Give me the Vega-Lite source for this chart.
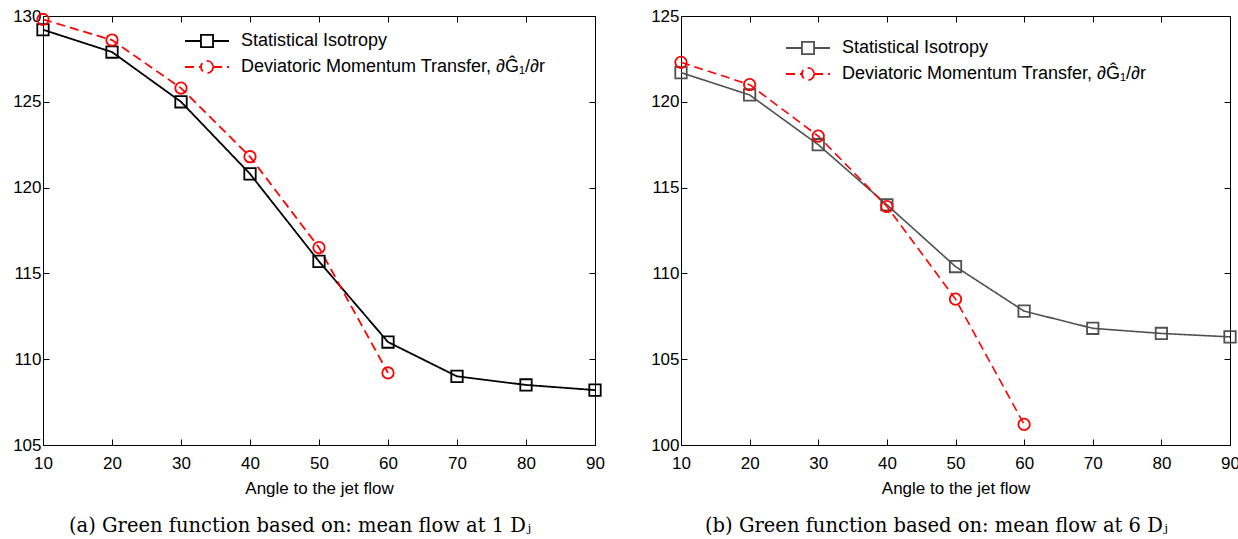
{
  "$schema": "https://vega.github.io/schema/vega-lite/v6.json",
  "background": "white",
  "padding": {"left": 12, "top": 6, "right": 4, "bottom": 0},
  "spacing": 45,
  "resolve": {"scale": {"color": "independent", "shape": "independent", "strokeDash": "independent"}},
  "config": {
    "view": {"stroke": "black", "strokeWidth": 1},
    "font": "Liberation Sans",
    "axis": {
      "grid": false, "domain": false, "tickColor": "black", "tickSize": -6, "tickWidth": 1, "labelFlush": false, "labelOverlap": false,
      "labelFont": "Liberation Sans", "labelFontSize": 17, "labelColor": "black",
      "titleFont": "Liberation Sans", "titleFontSize": 17, "titleFontWeight": "normal", "titleColor": "black"
    },
    "legend": {"labelFont": "Liberation Sans", "labelFontSize": 18, "labelColor": "black", "padding": 0, "labelLimit": 0}
  },
  "datasets": {
    "a": [
      {"angle": 10, "value": 129.2, "series": "Statistical Isotropy"},
      {"angle": 20, "value": 127.9, "series": "Statistical Isotropy"},
      {"angle": 30, "value": 125.0, "series": "Statistical Isotropy"},
      {"angle": 40, "value": 120.8, "series": "Statistical Isotropy"},
      {"angle": 50, "value": 115.7, "series": "Statistical Isotropy"},
      {"angle": 60, "value": 111.0, "series": "Statistical Isotropy"},
      {"angle": 70, "value": 109.0, "series": "Statistical Isotropy"},
      {"angle": 80, "value": 108.5, "series": "Statistical Isotropy"},
      {"angle": 90, "value": 108.2, "series": "Statistical Isotropy"},
      {"angle": 10, "value": 129.8, "series": "Deviatoric Momentum Transfer, ∂Ĝ₁/∂r"},
      {"angle": 20, "value": 128.6, "series": "Deviatoric Momentum Transfer, ∂Ĝ₁/∂r"},
      {"angle": 30, "value": 125.8, "series": "Deviatoric Momentum Transfer, ∂Ĝ₁/∂r"},
      {"angle": 40, "value": 121.8, "series": "Deviatoric Momentum Transfer, ∂Ĝ₁/∂r"},
      {"angle": 50, "value": 116.5, "series": "Deviatoric Momentum Transfer, ∂Ĝ₁/∂r"},
      {"angle": 60, "value": 109.2, "series": "Deviatoric Momentum Transfer, ∂Ĝ₁/∂r"}
    ],
    "b": [
      {"angle": 10, "value": 121.7, "series": "Statistical Isotropy"},
      {"angle": 20, "value": 120.4, "series": "Statistical Isotropy"},
      {"angle": 30, "value": 117.5, "series": "Statistical Isotropy"},
      {"angle": 40, "value": 114.0, "series": "Statistical Isotropy"},
      {"angle": 50, "value": 110.4, "series": "Statistical Isotropy"},
      {"angle": 60, "value": 107.8, "series": "Statistical Isotropy"},
      {"angle": 70, "value": 106.8, "series": "Statistical Isotropy"},
      {"angle": 80, "value": 106.5, "series": "Statistical Isotropy"},
      {"angle": 90, "value": 106.3, "series": "Statistical Isotropy"},
      {"angle": 10, "value": 122.3, "series": "Deviatoric Momentum Transfer, ∂Ĝ₁/∂r"},
      {"angle": 20, "value": 121.0, "series": "Deviatoric Momentum Transfer, ∂Ĝ₁/∂r"},
      {"angle": 30, "value": 118.0, "series": "Deviatoric Momentum Transfer, ∂Ĝ₁/∂r"},
      {"angle": 40, "value": 113.9, "series": "Deviatoric Momentum Transfer, ∂Ĝ₁/∂r"},
      {"angle": 50, "value": 108.5, "series": "Deviatoric Momentum Transfer, ∂Ĝ₁/∂r"},
      {"angle": 60, "value": 101.2, "series": "Deviatoric Momentum Transfer, ∂Ĝ₁/∂r"}
    ]
  },
  "hconcat": [
    {
      "width": 552, "height": 429,
      "data": {"name": "a"},
      "title": {"text": "(a) Green function based on: mean flow at 1 Dⱼ", "orient": "bottom", "anchor": "start", "frame": "group", "dx": 26, "font": "DejaVu Serif", "fontSize": 19.5, "fontWeight": "normal", "color": "black", "offset": 21},
      "resolve": {"axis": {"x": "independent", "y": "independent"}, "scale": {"color": "independent", "shape": "independent", "strokeDash": "independent"}},
      "layer": [
        {
          "mark": {"type": "line", "strokeWidth": 1.8},
          "encoding": {
            "x": {"field": "angle", "type": "quantitative", "scale": {"domain": [10, 90], "nice": false}, "axis": {"values": [10,20,30,40,50,60,70,80,90], "title": "Angle to the jet flow", "labelPadding": 16, "titlePadding": 9}},
            "y": {"field": "value", "type": "quantitative", "scale": {"domain": [105, 130], "nice": false, "zero": false}, "axis": {"values": [105,110,115,120,125,130], "title": null, "labelPadding": 8}},
            "color": {"field": "series", "type": "nominal", "scale": {"domain": ["Statistical Isotropy", "Deviatoric Momentum Transfer, ∂Ĝ₁/∂r"], "range": ["#000000", "#ff0000"]}, "legend": null},
            "strokeDash": {"field": "series", "type": "nominal", "scale": {"domain": ["Statistical Isotropy", "Deviatoric Momentum Transfer, ∂Ĝ₁/∂r"], "range": [[1, 0], [9, 5]]}, "legend": null}
          }
        },
        {
          "mark": {"type": "point", "filled": false, "strokeWidth": 1.8, "size": 130, "opacity": 1},
          "encoding": {
            "x": {"field": "angle", "type": "quantitative", "axis": null},
            "y": {"field": "value", "type": "quantitative", "axis": null},
            "color": {"field": "series", "type": "nominal", "scale": {"domain": ["Statistical Isotropy", "Deviatoric Momentum Transfer, ∂Ĝ₁/∂r"], "range": ["#000000", "#ff0000"]}, "legend": null},
            "shape": {"field": "series", "type": "nominal", "scale": {"domain": ["Statistical Isotropy", "Deviatoric Momentum Transfer, ∂Ĝ₁/∂r"], "range": ["square", "circle"]}, "legend": null}
          }
        },
        {
          "mark": {"type": "point", "filled": false, "opacity": 0, "strokeWidth": 1.8},
          "encoding": {
            "x": {"field": "angle", "type": "quantitative", "axis": {"orient": "top", "labels": false, "title": null, "values": [10,20,30,40,50,60,70,80,90]}},
            "y": {"field": "value", "type": "quantitative", "axis": {"orient": "right", "labels": false, "title": null, "values": [105,110,115,120,125,130]}},
            "color": {"field": "series", "type": "nominal", "scale": {"domain": ["Statistical Isotropy", "Deviatoric Momentum Transfer, ∂Ĝ₁/∂r"], "range": ["#000000", "#ff0000"]}, "legend": {"orient": "none", "legendX": 152, "legendY": 13, "title": null, "symbolOpacity": 1, "symbolSize": 484, "symbolStrokeWidth": 1.8, "labelOffset": 22, "rowPadding": 4, "symbolFillColor": "transparent"}},
            "shape": {"field": "series", "type": "nominal", "scale": {"domain": ["Statistical Isotropy", "Deviatoric Momentum Transfer, ∂Ĝ₁/∂r"], "range": ["M-2,0H-0.55M0.55,0H2M-0.55,-0.55H0.55V0.55H-0.55Z", "M-2,0H-0.55M0.55,0H2M0.55,0A0.55,0.55,0,1,1,-0.55,0A0.55,0.55,0,1,1,0.55,0Z"]}},
            "strokeDash": {"field": "series", "type": "nominal", "scale": {"domain": ["Statistical Isotropy", "Deviatoric Momentum Transfer, ∂Ĝ₁/∂r"], "range": [[1, 0], [9, 5]]}}
          }
        }
      ]
    },
    {
      "width": 549, "height": 429,
      "data": {"name": "b"},
      "title": {"text": "(b) Green function based on: mean flow at 6 Dⱼ", "orient": "bottom", "anchor": "start", "frame": "group", "dx": 24, "font": "DejaVu Serif", "fontSize": 19.5, "fontWeight": "normal", "color": "black", "offset": 21},
      "resolve": {"axis": {"x": "independent", "y": "independent"}, "scale": {"color": "independent", "shape": "independent", "strokeDash": "independent"}},
      "layer": [
        {
          "mark": {"type": "line", "strokeWidth": 1.6},
          "encoding": {
            "x": {"field": "angle", "type": "quantitative", "scale": {"domain": [10, 90], "nice": false}, "axis": {"values": [10,20,30,40,50,60,70,80,90], "title": "Angle to the jet flow", "labelPadding": 16, "titlePadding": 9}},
            "y": {"field": "value", "type": "quantitative", "scale": {"domain": [100, 125], "nice": false, "zero": false}, "axis": {"values": [100,105,110,115,120,125], "title": null, "labelPadding": 8}},
            "color": {"field": "series", "type": "nominal", "scale": {"domain": ["Statistical Isotropy", "Deviatoric Momentum Transfer, ∂Ĝ₁/∂r"], "range": ["#505050", "#ff0000"]}, "legend": null},
            "strokeDash": {"field": "series", "type": "nominal", "scale": {"domain": ["Statistical Isotropy", "Deviatoric Momentum Transfer, ∂Ĝ₁/∂r"], "range": [[1, 0], [9, 5]]}, "legend": null}
          }
        },
        {
          "mark": {"type": "point", "filled": false, "strokeWidth": 1.8, "size": 130, "opacity": 1},
          "encoding": {
            "x": {"field": "angle", "type": "quantitative", "axis": null},
            "y": {"field": "value", "type": "quantitative", "axis": null},
            "color": {"field": "series", "type": "nominal", "scale": {"domain": ["Statistical Isotropy", "Deviatoric Momentum Transfer, ∂Ĝ₁/∂r"], "range": ["#505050", "#ff0000"]}, "legend": null},
            "shape": {"field": "series", "type": "nominal", "scale": {"domain": ["Statistical Isotropy", "Deviatoric Momentum Transfer, ∂Ĝ₁/∂r"], "range": ["square", "circle"]}, "legend": null}
          }
        },
        {
          "mark": {"type": "point", "filled": false, "opacity": 0, "strokeWidth": 1.8},
          "encoding": {
            "x": {"field": "angle", "type": "quantitative", "axis": {"orient": "top", "labels": false, "title": null, "values": [10,20,30,40,50,60,70,80,90]}},
            "y": {"field": "value", "type": "quantitative", "axis": {"orient": "right", "labels": false, "title": null, "values": [100,105,110,115,120,125]}},
            "color": {"field": "series", "type": "nominal", "scale": {"domain": ["Statistical Isotropy", "Deviatoric Momentum Transfer, ∂Ĝ₁/∂r"], "range": ["#505050", "#ff0000"]}, "legend": {"orient": "none", "legendX": 115, "legendY": 20, "title": null, "symbolOpacity": 1, "symbolSize": 484, "symbolStrokeWidth": 1.8, "labelOffset": 22, "rowPadding": 4, "symbolFillColor": "transparent"}},
            "shape": {"field": "series", "type": "nominal", "scale": {"domain": ["Statistical Isotropy", "Deviatoric Momentum Transfer, ∂Ĝ₁/∂r"], "range": ["M-2,0H-0.55M0.55,0H2M-0.55,-0.55H0.55V0.55H-0.55Z", "M-2,0H-0.55M0.55,0H2M0.55,0A0.55,0.55,0,1,1,-0.55,0A0.55,0.55,0,1,1,0.55,0Z"]}},
            "strokeDash": {"field": "series", "type": "nominal", "scale": {"domain": ["Statistical Isotropy", "Deviatoric Momentum Transfer, ∂Ĝ₁/∂r"], "range": [[1, 0], [9, 5]]}}
          }
        }
      ]
    }
  ]
}
